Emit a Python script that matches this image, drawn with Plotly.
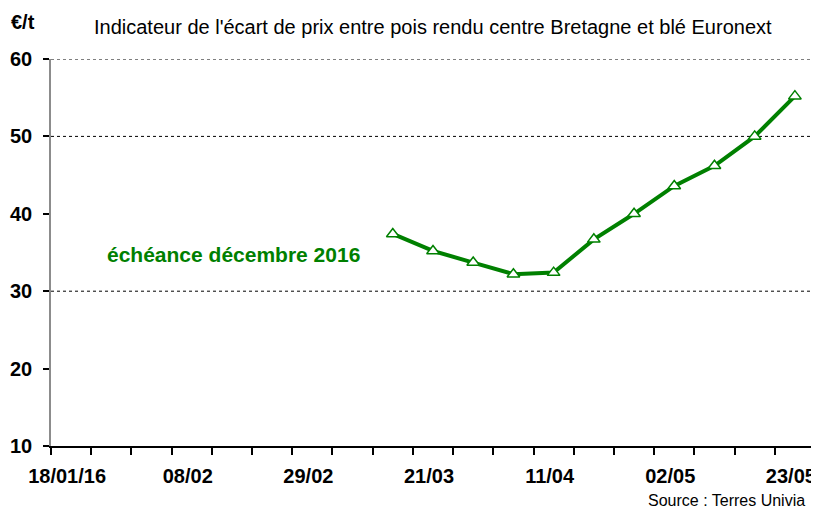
import plotly.graph_objects as go

# Weekly categories on the x axis (labels shown every 3rd week)
weeks = ["18/01/16", "25/01", "01/02", "08/02", "15/02", "22/02", "29/02",
         "07/03", "14/03", "21/03", "28/03", "04/04", "11/04", "18/04",
         "25/04", "02/05", "09/05", "16/05", "23/05"]
shown_labels = ["18/01/16", "08/02", "29/02", "21/03", "11/04", "02/05", "23/05"]

# Series: écart de prix (€/t), échéance décembre 2016
dates = ["14/03", "21/03", "28/03", "04/04", "11/04", "18/04",
         "25/04", "02/05", "09/05", "16/05", "23/05"]
values = [37.4, 35.2, 33.7, 32.2, 32.4, 36.7, 40.0, 43.6, 46.2, 50.0, 55.2]

y_ticks = [10, 20, 30, 40, 50, 60]
grid_levels = [30, 50, 60]

FONT = "Liberation Sans, Arial, sans-serif"
GREEN = "#008000"

x_idx = [weeks.index(d) for d in dates]
x_range = [-0.5, len(weeks) - 0.5]
boundaries = [i - 0.5 for i in range(len(weeks) + 1)]

fig = go.Figure()
fig.add_trace(go.Scatter(
    x=x_idx, y=values, mode="lines+markers",
    line=dict(color=GREEN, width=4),
    marker=dict(symbol="triangle-up", size=11, color="white",
                line=dict(color=GREEN, width=1.5)),
    showlegend=False, hoverinfo="x+y",
))

for g in grid_levels:
    fig.add_shape(type="line", xref="paper", x0=0, x1=1, yref="y", y0=g, y1=g,
                  line=dict(color="black", width=1, dash="dot"), layer="below")

# the page body adds an 8px offset, so the figure is 8px smaller
fig.update_layout(
    width=811, height=501,
    margin=dict(l=43, r=4, t=51, b=63, autoexpand=False),
    paper_bgcolor="white", plot_bgcolor="white",
    font=dict(family=FONT, color="black"),
    xaxis=dict(
        range=x_range, tickmode="array",
        tickvals=[weeks.index(l) for l in shown_labels],
        ticktext=shown_labels, ticks="", ticklabelstandoff=11,
        ticklabelshift=-4, ticklabeloverflow="allow",
        showgrid=False, zeroline=False, automargin=False,
        showline=True, linecolor="black", linewidth=2,
        tickfont=dict(family=FONT, size=20, weight="bold", color="black"),
        minor=dict(tickmode="array", tickvals=boundaries, ticks="outside",
                   ticklen=7, tickwidth=2, tickcolor="black", showgrid=False),
    ),
    yaxis=dict(
        range=[10, 60], tickmode="array", tickvals=y_ticks,
        ticks="outside", ticklen=6, tickwidth=2, tickcolor="black",
        showgrid=False, zeroline=False, automargin=False,
        showline=True, linecolor="#8c8c8c", linewidth=1.5,
        ticklabelstandoff=7,
        tickfont=dict(family=FONT, size=20, weight="bold", color="black"),
    ),
    annotations=[
        dict(text="Indicateur de l'écart de prix entre pois rendu centre Bretagne et blé Euronext",
             xref="paper", yref="paper", x=0.5, y=1, yshift=32, xanchor="center",
             yanchor="middle", showarrow=False, font=dict(family=FONT, size=20)),
        dict(text="€/t", xref="paper", yref="paper", x=0, xshift=-42, y=1, yshift=37,
             xanchor="left", yanchor="middle", showarrow=False,
             font=dict(family=FONT, size=20, weight="bold")),
        dict(text="échéance décembre 2016", xref="x", yref="y", x=4.03, y=34.8,
             xanchor="center", yanchor="middle", showarrow=False,
             font=dict(family=FONT, size=21, weight="bold", color=GREEN)),
        dict(text="Source : Terres Univia", xref="paper", yref="paper", x=1, xshift=-8,
             y=0, yshift=-54, xanchor="right", yanchor="middle", showarrow=False,
             font=dict(family=FONT, size=16)),
    ],
)

fig.write_html("out.html")
